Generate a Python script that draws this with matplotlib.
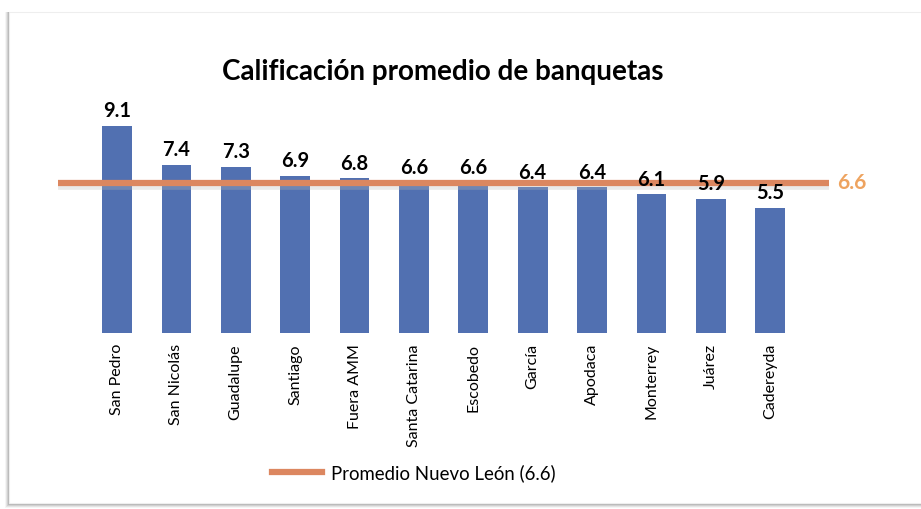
import matplotlib.pyplot as plt
import matplotlib.patches as mpatches
from matplotlib.lines import Line2D

plt.rcParams['font.family'] = ['Lato', 'DejaVu Sans']

municipios = ['San Pedro', 'San Nicolás', 'Guadalupe', 'Santiago', 'Fuera AMM',
              'Santa Catarina', 'Escobedo', 'García', 'Apodaca', 'Monterrey',
              'Juárez', 'Cadereyda']
calificacion = [9.1, 7.4, 7.3, 6.9, 6.8, 6.6, 6.6, 6.4, 6.4, 6.1, 5.9, 5.5]
promedio_nl = 6.6

bar_color = '#5170b1'
line_color = '#dc8760'
label_orange = '#eea35f'

W, H = 921, 509
fig = plt.figure(figsize=(W / 100, H / 100), dpi=100)
fig.patch.set_facecolor('white')

# card background with a soft shadow along the left and bottom
for k, a in enumerate([0.08, 0.14, 0.2, 0.28]):
    fig.patches.append(mpatches.Rectangle(
        ((5 + k) / W, (1 + k) / H), (W - 5) / W, (H - 13 - k) / H,
        transform=fig.transFigure, facecolor='#808080', edgecolor='none',
        alpha=a, zorder=-3))
fig.patches.append(mpatches.Rectangle(
    (9 / W, 6 / H), (W - 8) / W, (H - 18) / H, transform=fig.transFigure,
    facecolor='white', edgecolor='#eeeeee', linewidth=0.8, zorder=-2))

ax = fig.add_axes([58 / W, (H - 333) / H, (829 - 58) / W, 227.5 / H])
ax.set_facecolor('none')
x = range(len(municipios))
ax.bar(x, calificacion, width=0.5, color=bar_color, zorder=2)

# state average line with a faint shadow underneath
ax.axhline(promedio_nl - 0.1, color='#bbbbbb', linewidth=7, alpha=0.3, zorder=2.5)
ax.axhline(promedio_nl, color=line_color, linewidth=4.5, zorder=3)
ax.text(1.01, promedio_nl, f'{promedio_nl}', transform=ax.get_yaxis_transform(),
        color=label_orange, fontsize=15, fontweight='bold', va='center', ha='left')

for xi, v in zip(x, calificacion):
    ax.text(xi, v + 0.2, f'{v}', ha='center', va='bottom', fontsize=14.5,
            fontweight='bold', color='black', zorder=4)

ax.set_xlim(-0.993, 11.99)
ax.set_ylim(0, 10)
ax.set_xticks(list(x))
ax.set_xticklabels(municipios, rotation=90, fontsize=11.5, va='top')
ax.tick_params(axis='x', length=0, pad=8)
ax.set_yticks([])
for s in ax.spines.values():
    s.set_visible(False)

fig.text(443 / W, 1 - 72 / H, 'Calificación promedio de banquetas', ha='center',
         va='center', fontsize=20, fontweight='bold', color='black')

legend_handle = Line2D([], [], color=line_color, linewidth=4.5)
fig.legend(handles=[legend_handle], labels=['Promedio Nuevo León (6.6)'],
           loc='center', bbox_to_anchor=(414 / W, 1 - 473 / H), frameon=False,
           fontsize=13.4, handlelength=2.7, handletextpad=0.5)

fig.savefig('out.png', dpi=100, facecolor='white')
